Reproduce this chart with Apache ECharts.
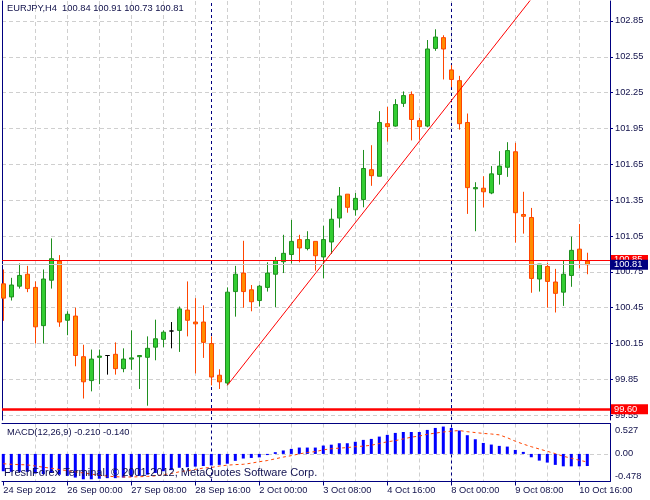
<!DOCTYPE html>
<html><head><meta charset="utf-8">
<script src="https://cdn.jsdelivr.net/npm/echarts@6/dist/echarts.min.js"></script>
<style>html,body{margin:0;padding:0;background:#fff}#c{width:650px;height:500px}</style>
</head><body><div id="c"></div>
<script>
const symbolName = 'EURJPY,H4';
const macdName = 'MACD(12,26,9)';
const copyrightText = 'FreshForex Terminal, \u00a9 2001-2012, MetaQuotes Software Corp.';

const tickBars = [0, 8, 16, 24, 32, 40, 48, 56, 64, 72];
const tickLabels = ['24 Sep 2012', '26 Sep 00:00', '27 Sep 08:00', '28 Sep 16:00', '2 Oct 00:00',
  '3 Oct 08:00', '4 Oct 16:00', '8 Oct 00:00', '9 Oct 08:00', '10 Oct 16:00'];
const gridBars = [4, 8, 12, 16, 20, 24, 28, 32, 36, 40, 44, 48, 52, 56, 60, 64, 68, 72];
const separatorBars = [26, 56];
const priceTicks = [99.55, 99.85, 100.15, 100.45, 100.75, 101.05, 101.35, 101.65, 101.95, 102.25, 102.55, 102.85];
const macdTicks = [-0.478, 0, 0.527];

const open = [100.65, 100.54, 100.63, 100.73, 100.62, 100.30, 100.68, 100.84, 100.345, 100.38,
  100.04, 99.84, 100.035, 100.05, 100.06, 99.94, 100.02, 100.04, 100.035, 100.12,
  100.185, 100.255, 100.26, 100.43, 100.33, 100.33, 100.15, 99.885, 99.82, 100.585,
  100.74, 100.60, 100.51, 100.62, 100.73, 100.835, 100.895, 101.02, 100.945, 101.005,
  100.875, 101.00, 101.20, 101.40, 101.27, 101.355, 101.605, 101.55, 101.99, 101.97,
  102.16, 102.235, 102.015, 101.97, 102.62, 102.71, 102.44, 102.35, 102.00, 101.445,
  101.45, 101.41, 101.565, 101.625, 101.755, 101.23, 101.205, 100.69, 100.795, 100.665,
  100.58, 100.72, 100.94, 100.84];
const high = [100.77, 100.70, 100.82, 100.80, 100.67, 100.77, 101.03, 100.89, 100.42, 100.45,
  100.14, 100.10, 100.10, 100.05, 100.16, 100.11, 100.26, 100.05, 100.21, 100.35,
  100.26, 100.33, 100.46, 100.67, 100.53, 100.47, 100.21, 99.935, 100.62, 100.80,
  101.01, 100.64, 100.64, 100.83, 100.875, 101.06, 101.185, 101.06, 101.09, 101.005,
  101.135, 101.28, 101.46, 101.40, 101.41, 101.77, 101.81, 102.095, 102.13, 102.195,
  102.26, 102.26, 102.04, 102.69, 102.78, 102.73, 102.48, 102.39, 102.075, 101.50,
  101.55, 101.635, 101.76, 101.835, 101.83, 101.42, 101.285, 100.815, 100.825, 100.775,
  100.845, 101.045, 101.15, 100.91];
const low = [100.34, 100.51, 100.61, 100.58, 100.15, 100.15, 100.61, 100.29, 100.22, 99.96,
  99.69, 99.75, 99.81, 99.89, 99.89, 99.91, 99.93, 99.77, 99.63, 100.01,
  100.12, 100.11, 100.08, 100.21, 99.90, 100.03, 99.80, 99.77, 99.80, 100.375,
  100.45, 100.42, 100.46, 100.585, 100.455, 100.74, 100.82, 100.83, 100.93, 100.76,
  100.695, 100.90, 101.12, 101.245, 101.22, 101.29, 101.47, 101.55, 101.84, 101.965,
  102.13, 101.85, 101.855, 101.96, 102.60, 102.36, 102.295, 101.94, 101.235, 101.09,
  101.29, 101.40, 101.48, 101.545, 100.995, 101.07, 100.575, 100.585, 100.45, 100.41,
  100.465, 100.625, 100.78, 100.73];
const close = [100.53, 100.64, 100.72, 100.61, 100.29, 100.69, 100.86, 100.33, 100.395, 100.05,
  99.83, 100.02, 100.045, 100.05, 99.94, 100.02, 100.03, 100.05, 100.11, 100.19,
  100.245, 100.255, 100.44, 100.345, 100.315, 100.16, 99.87, 99.83, 100.58, 100.73,
  100.585, 100.50, 100.63, 100.74, 100.845, 100.905, 101.005, 100.95, 101.02, 100.885,
  101.02, 101.19, 101.385, 101.29, 101.365, 101.615, 101.555, 102.00, 101.965, 102.15,
  102.225, 102.025, 101.965, 102.615, 102.715, 102.615, 102.36, 101.99, 101.455, 101.455,
  101.42, 101.57, 101.635, 101.765, 101.245, 101.215, 100.695, 100.815, 100.67, 100.57,
  100.73, 100.93, 100.845, 100.81];

const macd = [-0.30, -0.31, -0.31, -0.31, -0.34, -0.35, -0.33, -0.36, -0.38, -0.41,
  -0.44, -0.44, -0.43, -0.42, -0.42, -0.41, -0.40, -0.38, -0.36, -0.33,
  -0.30, -0.28, -0.24, -0.23, -0.22, -0.21, -0.20, -0.19, -0.17, -0.12,
  -0.08, -0.07, -0.06, -0.02, 0.03, 0.06, 0.087, 0.11, 0.11, 0.11,
  0.145, 0.16, 0.185, 0.185, 0.21, 0.243, 0.26, 0.30, 0.33, 0.364,
  0.38, 0.38, 0.38, 0.416, 0.45, 0.474, 0.45, 0.405, 0.324, 0.254,
  0.19, 0.162, 0.139, 0.127, 0.069, 0.035, -0.058, -0.116, -0.15, -0.19,
  -0.215, -0.215, -0.215, -0.210];
const signal = [-0.17, -0.18, -0.185, -0.19, -0.21, -0.23, -0.25, -0.27, -0.29, -0.31,
  -0.33, -0.35, -0.37, -0.385, -0.395, -0.40, -0.40, -0.395, -0.39, -0.38,
  -0.36, -0.34, -0.31, -0.29, -0.27, -0.245, -0.235, -0.21, -0.195, -0.185,
  -0.18, -0.16, -0.135, -0.115, -0.085, -0.055, -0.03, 0.0, 0.025, 0.04,
  0.07, 0.09, 0.10, 0.11, 0.125, 0.135, 0.15, 0.18, 0.21, 0.23,
  0.26, 0.29, 0.31, 0.34, 0.36, 0.38, 0.395, 0.405, 0.385, 0.37,
  0.355, 0.345, 0.33, 0.28, 0.22, 0.17, 0.125, 0.085, 0.045, 0.005,
  -0.04, -0.075, -0.11, -0.140];

const trendLine = [[28, 99.80], [70, 103.374]];
const userLevel = 100.85;
const supportLevel = 99.60;

const NAVY = '#000080';
const TXT = '#10104a';
const FONT = "'Liberation Sans', Arial, sans-serif";
const FS = 9.3;
const GRIDC = '#cfcfcf';
const xMin = -0.1625, xMax = 75.8375;

const last = open.length - 1;
const candleData = open.map((o, i) => [i, o, close[i], low[i], high[i]]);
const macdData = macd.map((v, i) => [i, v]);
const signalData = signal.map((v, i) => [i, v]);

const chart = echarts.init(document.getElementById('c'), null, {renderer: 'canvas'});
const dash = {color: GRIDC, type: [4, 3], width: 1};
const sepStyle = {color: NAVY, width: 1, type: [3, 3]};
const boxLabel = (bg) => ({
  show: true, position: 'end', distance: 1, formatter: p => p.value.toFixed(2),
  color: '#fff', backgroundColor: bg, padding: [1, 2, 0, 3], width: 32,
  fontSize: FS, fontFamily: FONT, align: 'left'
});

chart.setOption({
  animation: false,
  backgroundColor: '#fff',
  title: [
    {text: symbolName + '  ' + [open[last], high[last], low[last], close[last]].map(v => v.toFixed(2)).join(' '),
     left: 7, top: 4, padding: 0,
     textStyle: {fontSize: FS, fontWeight: 'normal', color: TXT, fontFamily: FONT}},
    {text: macdName + ' ' + macd[last].toFixed(3) + ' ' + signal[last].toFixed(3),
     left: 7, top: 428, padding: 0,
     textStyle: {fontSize: FS, fontWeight: 'normal', color: TXT, fontFamily: FONT}},
    {text: copyrightText, left: 4, top: 467, padding: 0, z: 10,
     textStyle: {fontSize: 11, fontWeight: 'normal', color: '#101050', fontFamily: FONT}}
  ],
  grid: [
    {left: 2, top: 1, width: 608, height: 419},
    {left: 2, top: 423.5, width: 608, height: 58}
  ],
  xAxis: [
    {gridIndex: 0, type: 'value', min: xMin, max: xMax,
     axisLine: {show: false}, axisLabel: {show: false},
     axisTick: {show: false, customValues: gridBars},
     splitLine: {show: true, lineStyle: dash}},
    {gridIndex: 1, type: 'value', position: 'bottom', min: xMin, max: xMax,
     axisLine: {show: true, onZero: false, lineStyle: {color: NAVY, width: 1}},
     axisTick: {show: true, customValues: tickBars, length: 4, lineStyle: {color: NAVY}},
     axisLabel: {show: true, customValues: tickBars, align: 'left', margin: 4,
       formatter: v => tickLabels[tickBars.indexOf(v)],
       color: TXT, fontSize: FS, fontFamily: FONT, hideOverlap: false},
     splitLine: {show: false}},
    {gridIndex: 1, type: 'value', position: 'top', min: xMin, max: xMax,
     axisLine: {show: true, onZero: false, lineStyle: {color: NAVY, width: 1}},
     axisTick: {show: false, customValues: gridBars}, axisLabel: {show: false},
     splitLine: {show: true, lineStyle: dash}}
  ],
  yAxis: [
    {gridIndex: 0, type: 'value', position: 'right', min: 99.5103, max: 103.0166, scale: true,
     axisLine: {show: true, onZero: false, lineStyle: {color: NAVY, width: 1}},
     axisTick: {show: true, customValues: priceTicks, length: 3, lineStyle: {color: NAVY}},
     axisLabel: {show: true, customValues: priceTicks, margin: 5, formatter: v => v.toFixed(2),
       color: TXT, fontSize: FS, fontFamily: FONT, showMinLabel: true, showMaxLabel: true},
     splitLine: {show: true, lineStyle: dash}},
    {gridIndex: 0, type: 'value', position: 'left', min: 99.5103, max: 103.0166, scale: true,
     axisLine: {show: true, onZero: false, lineStyle: {color: NAVY, width: 1}},
     axisTick: {show: false}, axisLabel: {show: false}, splitLine: {show: false}},
    {gridIndex: 1, type: 'value', position: 'right', min: -0.478, max: 0.527,
     axisLine: {show: true, onZero: false, lineStyle: {color: NAVY, width: 1}},
     axisTick: {show: false, customValues: [0]},
     axisLabel: {show: true, customValues: macdTicks, margin: 5,
       formatter: v => v === 0 ? '{m|0.00}' : (v > 0 ? '{t|' + v.toFixed(3) + '}' : '{b|' + v.toFixed(3) + '}'),
       rich: {
         t: {padding: [14, 0, 0, 0], color: TXT, fontSize: FS, fontFamily: FONT},
         m: {color: TXT, fontSize: FS, fontFamily: FONT},
         b: {padding: [0, 0, 11, 0], color: TXT, fontSize: FS, fontFamily: FONT}
       }},
     splitLine: {show: true, lineStyle: dash}}
  ],
  series: [
    {type: 'line', xAxisIndex: 0, yAxisIndex: 0, data: trendLine, symbol: 'none', clip: true, z: 3,
     lineStyle: {color: '#FF0000', width: 1},
     markLine: {silent: true, symbol: 'none', animation: false, z: 1,
       data: separatorBars.map(b => ({xAxis: b, lineStyle: sepStyle, label: {show: false}}))}},
    {type: 'candlestick', xAxisIndex: 0, yAxisIndex: 0, data: candleData, barWidth: 4,
     clip: true, z: 2,
     itemStyle: {color: '#32CD32', color0: '#FF8C00', borderColor: '#1f8f1f', borderColor0: '#FF4500',
       borderColorDoji: '#000000', borderWidth: 1},
     markLine: {silent: true, symbol: 'none', animation: false, z: 5,
       data: [
         {yAxis: userLevel, lineStyle: {color: '#FF0000', width: 1, type: 'solid'}, label: boxLabel('#FF0000')},
         {yAxis: close[last], lineStyle: {color: '#C8C8C8', width: 1, type: 'solid'}, label: boxLabel(NAVY)},
         {yAxis: supportLevel, lineStyle: {color: '#FF0000', width: 2.5, type: 'solid'}, label: boxLabel('#FF0000')}
       ]}},
    {type: 'bar', xAxisIndex: 1, yAxisIndex: 2, data: macdData, barWidth: 3, z: 2,
     itemStyle: {color: '#0000FF'},
     markLine: {silent: true, symbol: 'none', animation: false, z: 1,
       data: separatorBars.map(b => ({xAxis: b, lineStyle: sepStyle, label: {show: false}}))}},
    {type: 'line', xAxisIndex: 1, yAxisIndex: 2, data: signalData, symbol: 'none', z: 3,
     lineStyle: {color: '#FF4500', width: 1, type: [3, 3]}}
  ]
});
</script></body></html>
